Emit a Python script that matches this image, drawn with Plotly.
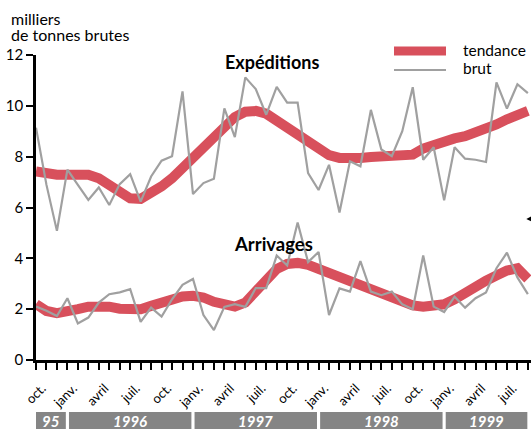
import plotly.graph_objects as go

# month index 0 = oct. 1995
months = list(range(48))
month_names = ["oct.", "janv.", "avril", "juil."]
tick_labels = [month_names[(i // 3) % 4] if i % 3 == 0 else "" for i in months]

exp_brut = [9.14, 6.89, 5.08, 7.49, 6.89, 6.30, 6.79, 6.10, 6.92, 7.31, 6.23, 7.22,
            7.84, 8.02, 10.57, 6.53, 6.96, 7.13, 9.90, 8.77, 11.12, 10.66, 9.65, 10.75,
            10.13, 10.13, 7.35, 6.69, 7.68, 5.80, 7.82, 7.62, 9.84, 8.28, 8.02, 9.00,
            10.73, 7.88, 8.37, 6.28, 8.37, 7.92, 7.88, 7.79, 10.92, 9.89, 10.85, 10.50]
exp_tend = [7.42, 7.31, 7.29, 7.29, 7.31, 7.29, 7.15, 6.89, 6.60, 6.36, 6.34, 6.56,
            6.83, 7.15, 7.55, 7.95, 8.32, 8.72, 9.14, 9.56, 9.77, 9.80, 9.69, 9.40,
            9.14, 8.88, 8.54, 8.24, 8.06, 7.95, 7.92, 7.95, 7.99, 8.02, 8.02, 8.02,
            8.08, 8.32, 8.48, 8.61, 8.72, 8.81, 8.94, 9.11, 9.27, 9.47, 9.64, 9.80]
arr_brut = [2.10, 1.94, 1.73, 2.43, 1.44, 1.67, 2.26, 2.59, 2.66, 2.79, 1.50, 2.06,
            1.71, 2.39, 2.96, 3.19, 1.77, 1.18, 2.09, 2.20, 2.09, 2.83, 2.83, 4.11,
            3.72, 5.41, 3.85, 4.25, 1.77, 2.82, 2.69, 3.89, 2.69, 2.55, 2.69, 2.19,
            2.00, 4.11, 2.10, 1.89, 2.49, 2.06, 2.43, 2.66, 3.61, 4.22, 3.25, 2.59]
arr_tend = [2.20, 1.93, 1.84, 1.89, 2.00, 2.10, 2.13, 2.10, 2.02, 1.97, 2.00, 2.13,
            2.26, 2.39, 2.50, 2.53, 2.46, 2.29, 2.15, 2.10, 2.26, 2.70, 3.10, 3.58,
            3.78, 3.82, 3.74, 3.58, 3.43, 3.29, 3.16, 3.03, 2.86, 2.69, 2.46, 2.29,
            2.15, 2.10, 2.10, 2.19, 2.39, 2.66, 2.92, 3.12, 3.32, 3.52, 3.61, 3.19]

years = ["95", "1996", "1997", "1998", "1999"]
year_start = [0, 3, 15, 27, 39]
year_end = [3, 15, 27, 39, 47.1]

RED = "#d8505c"
GREY = "#a0a0a0"
FONT = "Lato"

W, H = 531, 429
L, R, T, B = 36, 0, 55, 69
PW, PH = W - L - R, H - T - B


def px(x):
    return (x - L) / PW


def py(y):
    return (H - B - y) / PH


fig = go.Figure()
for tend, brut in [(exp_tend, exp_brut), (arr_tend, arr_brut)]:
    fig.add_trace(go.Scatter(x=months, y=tend, mode="lines",
                             line=dict(color=RED, width=10), showlegend=False, hoverinfo="skip"))
    fig.add_trace(go.Scatter(x=months, y=brut, mode="lines",
                             line=dict(color=GREY, width=2.2), showlegend=False, hoverinfo="skip"))

shapes = []
annotations = []
for lab, s, e in zip(years, year_start, year_end):
    x0 = s + (0.15 if s > 0 else 0)
    x1 = e - 0.15
    shapes.append(dict(type="rect", xref="x", yref="paper", x0=x0, x1=x1,
                       y0=py(412), y1=py(440), fillcolor="#858585", line=dict(width=0),
                       layer="above"))
    annotations.append(dict(xref="x", yref="paper", x=(x0 + x1) / 2, y=py(421),
                            text="<b><i>" + lab + "</i></b>", showarrow=False,
                            font=dict(family=FONT, size=15, color="white"),
                            xanchor="center", yanchor="middle"))

# legend drawn manually
shapes.append(dict(type="line", xref="paper", yref="paper", x0=px(394), x1=px(446),
                   y0=py(51), y1=py(51), line=dict(color=RED, width=9)))
shapes.append(dict(type="line", xref="paper", yref="paper", x0=px(394), x1=px(446),
                   y0=py(70), y1=py(70), line=dict(color=GREY, width=2.2)))
annotations.append(dict(xref="paper", yref="paper", x=px(461), y=py(50),
                        text="tendance", showarrow=False, xanchor="left", yanchor="middle",
                        font=dict(family=FONT, size=15.5, color="black")))
annotations.append(dict(xref="paper", yref="paper", x=px(461), y=py(68),
                        text="brut", showarrow=False, xanchor="left", yanchor="middle",
                        font=dict(family=FONT, size=15.5, color="black")))

annotations.append(dict(xref="paper", yref="paper", x=px(9), y=py(19),
                        text="milliers", showarrow=False, xanchor="left", yanchor="middle",
                        font=dict(family=FONT, size=16, color="black")))
annotations.append(dict(xref="paper", yref="paper", x=px(9), y=py(35),
                        text="de tonnes brutes", showarrow=False, xanchor="left", yanchor="middle",
                        font=dict(family=FONT, size=16, color="black")))

annotations.append(dict(xref="paper", yref="paper", x=px(272), y=py(62),
                        text="<b>Expéditions</b>", showarrow=False, xanchor="center",
                        yanchor="middle", font=dict(family=FONT, size=18, color="black")))
annotations.append(dict(xref="paper", yref="paper", x=px(273), y=py(244),
                        text="<b>Arrivages</b>", showarrow=False, xanchor="center",
                        yanchor="middle", font=dict(family=FONT, size=18.5, color="black")))

annotations.append(dict(xref="x", yref="y", x=46.85, y=5.55, text="", showarrow=True,
                        ax=20, ay=0, arrowhead=2, arrowsize=1, arrowwidth=1.5,
                        arrowcolor="black"))

fig.update_layout(
    width=W, height=H,
    margin=dict(l=L, r=R, t=T, b=B),
    paper_bgcolor="white", plot_bgcolor="white",
    font=dict(family=FONT, color="black"),
    shapes=shapes, annotations=annotations,
    xaxis=dict(range=[0, 47.3], tickmode="array", tickvals=months, ticktext=tick_labels,
               tickangle=-45, ticks="outside", ticklen=7, tickwidth=2, tickcolor="black",
               showline=True, linewidth=2.5, linecolor="black", showgrid=False,
               zeroline=False, tickfont=dict(family=FONT, size=13, color="black"),
               ticklabelshift=6, ticklabelstandoff=6),
    yaxis=dict(range=[0, 12], tickvals=[0, 2, 4, 6, 8, 10, 12], ticks="outside",
               ticklen=7, tickwidth=2, tickcolor="black", showline=True, linewidth=2.5,
               linecolor="black", showgrid=False, zeroline=False,
               tickfont=dict(family=FONT, size=15, color="black")),
)

fig.write_html("out.html", config={"displayModeBar": False},
               post_script="document.body.style.margin='0';document.body.style.padding='0';")
